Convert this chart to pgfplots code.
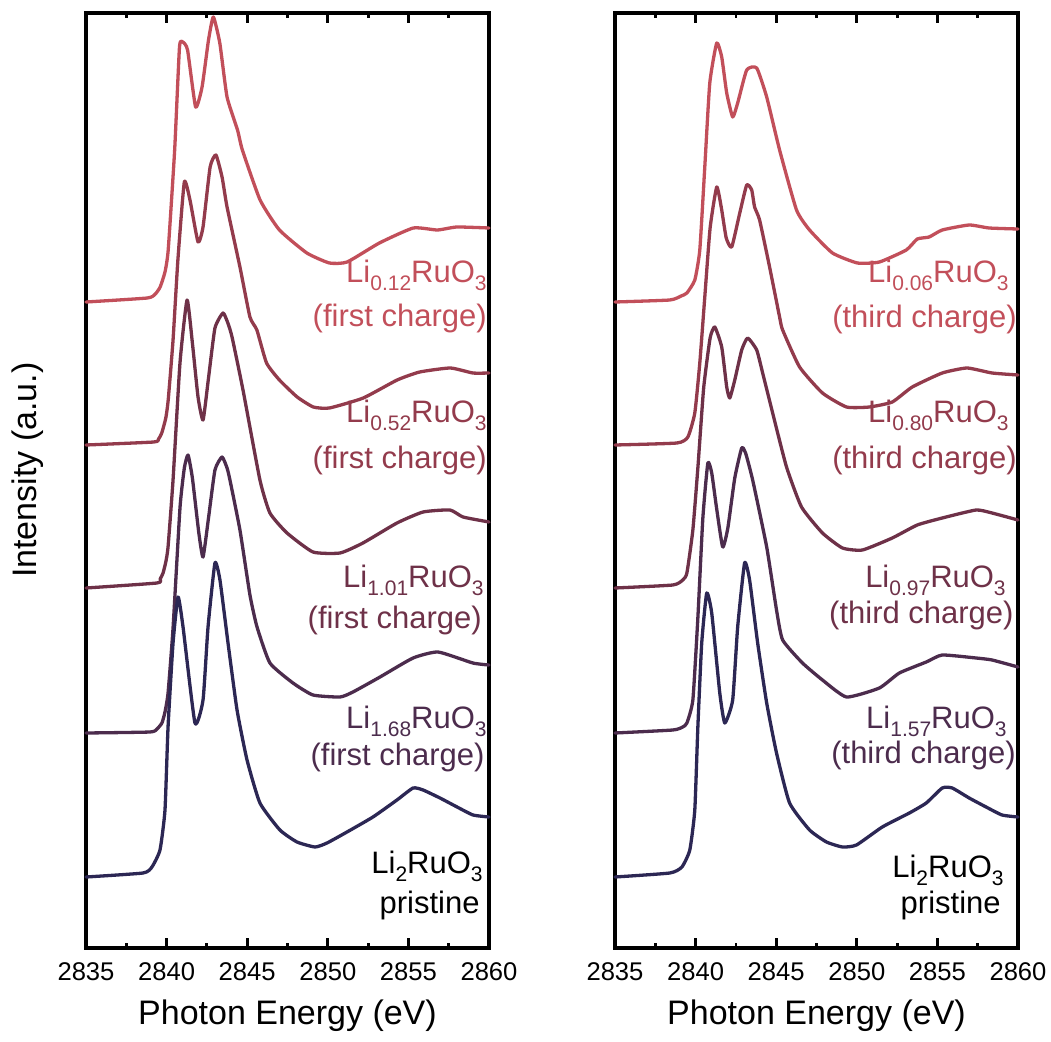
\documentclass[border=0pt]{standalone}
\usepackage{pgfplots}
\pgfplotsset{compat=1.18}
\usepackage{fontspec}
\setmainfont{Liberation Sans}
\definecolor{c1}{HTML}{C24F5A}
\definecolor{c2}{HTML}{933B4C}
\definecolor{c3}{HTML}{6E3148}
\definecolor{c4}{HTML}{4C2C4D}
\definecolor{c5}{HTML}{2C2754}
\newcommand\labfont{\fontsize{15.5}{18}\selectfont}
\newcommand\sub[1]{\raisebox{-4pt}{\fontsize{10.5}{12}\selectfont #1}}
\pgfplotsset{
  panel/.style={
    anchor=south west, scale only axis, width=201.5pt, height=467.5pt,
    xmin=2835, xmax=2860, ymin=0, ymax=935,
    xtick={2835,2840,2845,2850,2855,2860},
    xticklabels={2835,2840,2845,2850,2855,2860},
    minor xtick={2837.5,2842.5,2847.5,2852.5,2857.5},
    ytick=\empty,
    xtick pos=both, xtick align=inside,
    major tick length=5pt, minor tick length=2.5pt,
    every tick/.style={black, line width=1.4pt},
    axis line style={line width=1.7pt},
    xticklabel style={anchor=base, yshift=-16pt, font=\fontsize{12.8}{14}\selectfont},
    xlabel={Photon Energy (eV)},
    xlabel style={at={(axis description cs:0.5,-0.0813)}, anchor=base, font=\fontsize{17}{20}\selectfont},
    clip=false,
    every axis plot/.append style={line width=1.65pt, line join=round, line cap=round, smooth, tension=0.3},
  }
}
\begin{document}
\begin{tikzpicture}
\useasboundingbox (0,0) rectangle (525.5pt,520.5pt);
% ---------------- left panel
\begin{axis}[panel, at={(43pt,46.5pt)},
  ylabel={Intensity (a.u.)},
  ylabel style={at={(axis description cs:-0.1216,0.511)}, rotate=0, anchor=base, font=\fontsize{17}{20}\selectfont}]
\addplot[c1] coordinates {(2835.0,646) (2838.8,650) (2839.3,654) (2839.6,661) (2839.9,676) (2840.1,698) (2840.5,798) (2840.8,901) (2841.0,906) (2841.3,898) (2841.8,841) (2842.2,861) (2842.6,908) (2842.9,931) (2843.3,905) (2843.75,851) (2844.4,818) (2844.7,798) (2845.8,748) (2847.0,718) (2848.7,695) (2850.1,685) (2851.2,686) (2853.2,705) (2855.3,720) (2856.8,718) (2858.0,721) (2860.0,720)};
\addplot[c2] coordinates {(2835.0,503) (2839.2,506) (2839.5,509) (2839.7,515) (2839.95,530) (2840.1,548) (2840.4,608) (2840.7,688) (2841.1,766) (2841.45,748) (2841.95,706) (2842.26,721) (2842.7,781) (2843.06,793) (2843.44,771) (2843.75,741) (2844.55,681) (2845.17,631) (2845.6,618) (2846.2,585) (2847.0,568) (2848.1,551) (2849.1,541) (2850.1,540) (2852.2,550) (2854.3,568) (2855.7,576) (2857.6,580) (2859.0,575) (2860.0,575)};
\addplot[c3] coordinates {(2835.0,360) (2839.4,365) (2839.6,369) (2839.78,375) (2839.95,386) (2840.09,401) (2840.4,468) (2840.83,585) (2841.27,648) (2841.6,605) (2841.95,551) (2842.26,528) (2842.6,570) (2843.0,620) (2843.5,635) (2843.8,625) (2844.06,611) (2844.74,558) (2845.79,468) (2846.41,435) (2847.47,415) (2849.08,396) (2850.76,395) (2852.18,405) (2854.29,425) (2855.91,436) (2857.58,438) (2858.39,431) (2860.0,426)};
\addplot[c4] coordinates {(2835.0,215) (2838.97,216) (2839.4,219) (2839.71,225) (2839.9,236) (2840.09,255) (2840.4,320) (2840.83,440) (2841.1,480) (2841.33,493) (2841.6,470) (2842.0,415) (2842.26,391) (2842.6,430) (2843.0,478) (2843.44,491) (2843.75,480) (2843.93,468) (2844.55,418) (2845.17,353) (2845.61,321) (2846.41,285) (2847.84,265) (2849.08,253) (2850.76,251) (2851.56,256) (2853.24,271) (2855.29,290) (2856.84,296) (2859.0,285) (2860.0,283)};
\addplot[c5] coordinates {(2835.0,71) (2838.54,75) (2839.09,81) (2839.59,98) (2839.90,138) (2840.09,221) (2840.40,305) (2840.71,351) (2841.02,321) (2841.76,225) (2842.26,248) (2842.57,321) (2843.0,385) (2843.31,368) (2843.81,305) (2844.37,238) (2844.99,188) (2845.79,145) (2847.03,118) (2848.09,106) (2849.21,101) (2849.95,105) (2851.19,116) (2852.80,131) (2854.29,148) (2855.29,160) (2855.91,158) (2856.96,150) (2858.02,141) (2859.01,133) (2860.0,131)};
\begin{scope}[every node/.style={inner sep=0pt, anchor=base east, font=\labfont}]
\node[text=c1] at (axis cs:2859.88,665) {Li\sub{0.12}RuO\sub{3}};
\node[text=c1] at (axis cs:2859.88,621) {(first charge)};
\node[text=c2] at (axis cs:2859.88,525) {Li\sub{0.52}RuO\sub{3}};
\node[text=c2] at (axis cs:2859.88,480) {(first charge)};
\node[text=c3] at (axis cs:2859.69,361) {Li\sub{1.01}RuO\sub{3}};
\node[text=c3] at (axis cs:2859.57,320) {(first charge)};
\node[text=c4] at (axis cs:2859.88,220) {Li\sub{1.68}RuO\sub{3}};
\node[text=c4] at (axis cs:2859.75,183) {(first charge)};
\node[text=black] at (axis cs:2859.63,75) {Li\sub{2}RuO\sub{3}};
\node[text=black] at (axis cs:2859.44,35) {pristine};
\end{scope}
\end{axis}
% ---------------- right panel
\begin{axis}[panel, at={(307.5pt,46.5pt)}]
\addplot[c1] coordinates {(2835.0,646) (2838.40,648) (2839.1,652) (2839.46,655) (2839.95,668) (2840.26,698) (2840.57,781) (2840.88,865) (2841.31,905) (2841.62,891) (2841.93,855) (2842.30,831) (2842.61,845) (2843.17,878) (2843.79,880) (2844.41,851) (2845.21,798) (2846.26,738) (2847.07,718) (2848.49,695) (2850.04,685) (2851.40,686) (2853.07,698) (2853.75,709) (2854.49,711) (2855.30,718) (2856.97,723) (2858.21,720) (2860.0,719)};
\addplot[c2] coordinates {(2835.0,503) (2838.84,505) (2839.52,511) (2839.95,535) (2840.26,585) (2840.57,651) (2840.9,720) (2841.31,761) (2841.6,740) (2841.9,710) (2842.24,701) (2842.74,735) (2843.17,763) (2843.48,758) (2843.66,741) (2843.97,728) (2844.59,681) (2845.21,631) (2845.40,618) (2846.45,581) (2847.87,555) (2849.36,541) (2850.78,541) (2852.20,546) (2853.44,561) (2855.30,575) (2856.84,580) (2858.39,575) (2860.0,573)};
\addplot[c3] coordinates {(2835.0,360) (2838.59,363) (2839.2,368) (2839.46,375) (2839.83,418) (2840.14,480) (2840.5,560) (2840.9,610) (2841.19,621) (2841.62,601) (2841.93,561) (2842.12,550) (2842.43,568) (2842.86,598) (2843.23,610) (2843.79,598) (2844.16,575) (2844.78,535) (2845.64,481) (2846.57,441) (2847.87,415) (2849.11,400) (2850.35,398) (2852.20,410) (2853.75,423) (2855.30,430) (2857.40,438) (2858.39,435) (2860.0,428)};
\addplot[c4] coordinates {(2835.0,215) (2838.59,218) (2839.2,221) (2839.46,225) (2839.83,248) (2840.14,330) (2840.45,430) (2840.76,485) (2841.0,475) (2841.3,440) (2841.68,401) (2842.0,420) (2842.43,470) (2842.86,500) (2843.1,495) (2843.54,468) (2844.41,401) (2845.02,338) (2845.40,308) (2846.63,285) (2847.87,268) (2849.36,251) (2851.40,260) (2852.64,275) (2854.31,286) (2855.30,293) (2857.40,290) (2858.39,288) (2860.0,281)};
\addplot[c5] coordinates {(2835.0,71) (2838.40,75) (2839.15,81) (2839.64,98) (2839.95,138) (2840.14,221) (2840.38,305) (2840.69,355) (2841.00,335) (2841.50,255) (2841.81,225) (2842.30,248) (2842.61,321) (2843.04,385) (2843.35,368) (2843.85,305) (2844.41,245) (2845.02,195) (2845.83,145) (2847.07,118) (2848.12,106) (2849.11,101) (2849.98,103) (2851.58,121) (2853.26,135) (2854.31,145) (2855.30,160) (2855.92,160) (2856.97,150) (2858.02,141) (2859.01,133) (2860.0,131)};
\begin{scope}[every node/.style={inner sep=0pt, anchor=base east, font=\labfont}]
\node[text=c1] at (axis cs:2859.44,665) {Li\sub{0.06}RuO\sub{3}};
\node[text=c1] at (axis cs:2859.94,620) {(third charge)};
\node[text=c2] at (axis cs:2859.44,525) {Li\sub{0.80}RuO\sub{3}};
\node[text=c2] at (axis cs:2859.94,480) {(third charge)};
\node[text=c3] at (axis cs:2859.26,361) {Li\sub{0.97}RuO\sub{3}};
\node[text=c3] at (axis cs:2859.75,325) {(third charge)};
\node[text=c4] at (axis cs:2859.32,220) {Li\sub{1.57}RuO\sub{3}};
\node[text=c4] at (axis cs:2859.88,185) {(third charge)};
\node[text=black] at (axis cs:2859.13,71) {Li\sub{2}RuO\sub{3}};
\node[text=black] at (axis cs:2858.95,35) {pristine};
\end{scope}
\end{axis}
\end{tikzpicture}
\end{document}
